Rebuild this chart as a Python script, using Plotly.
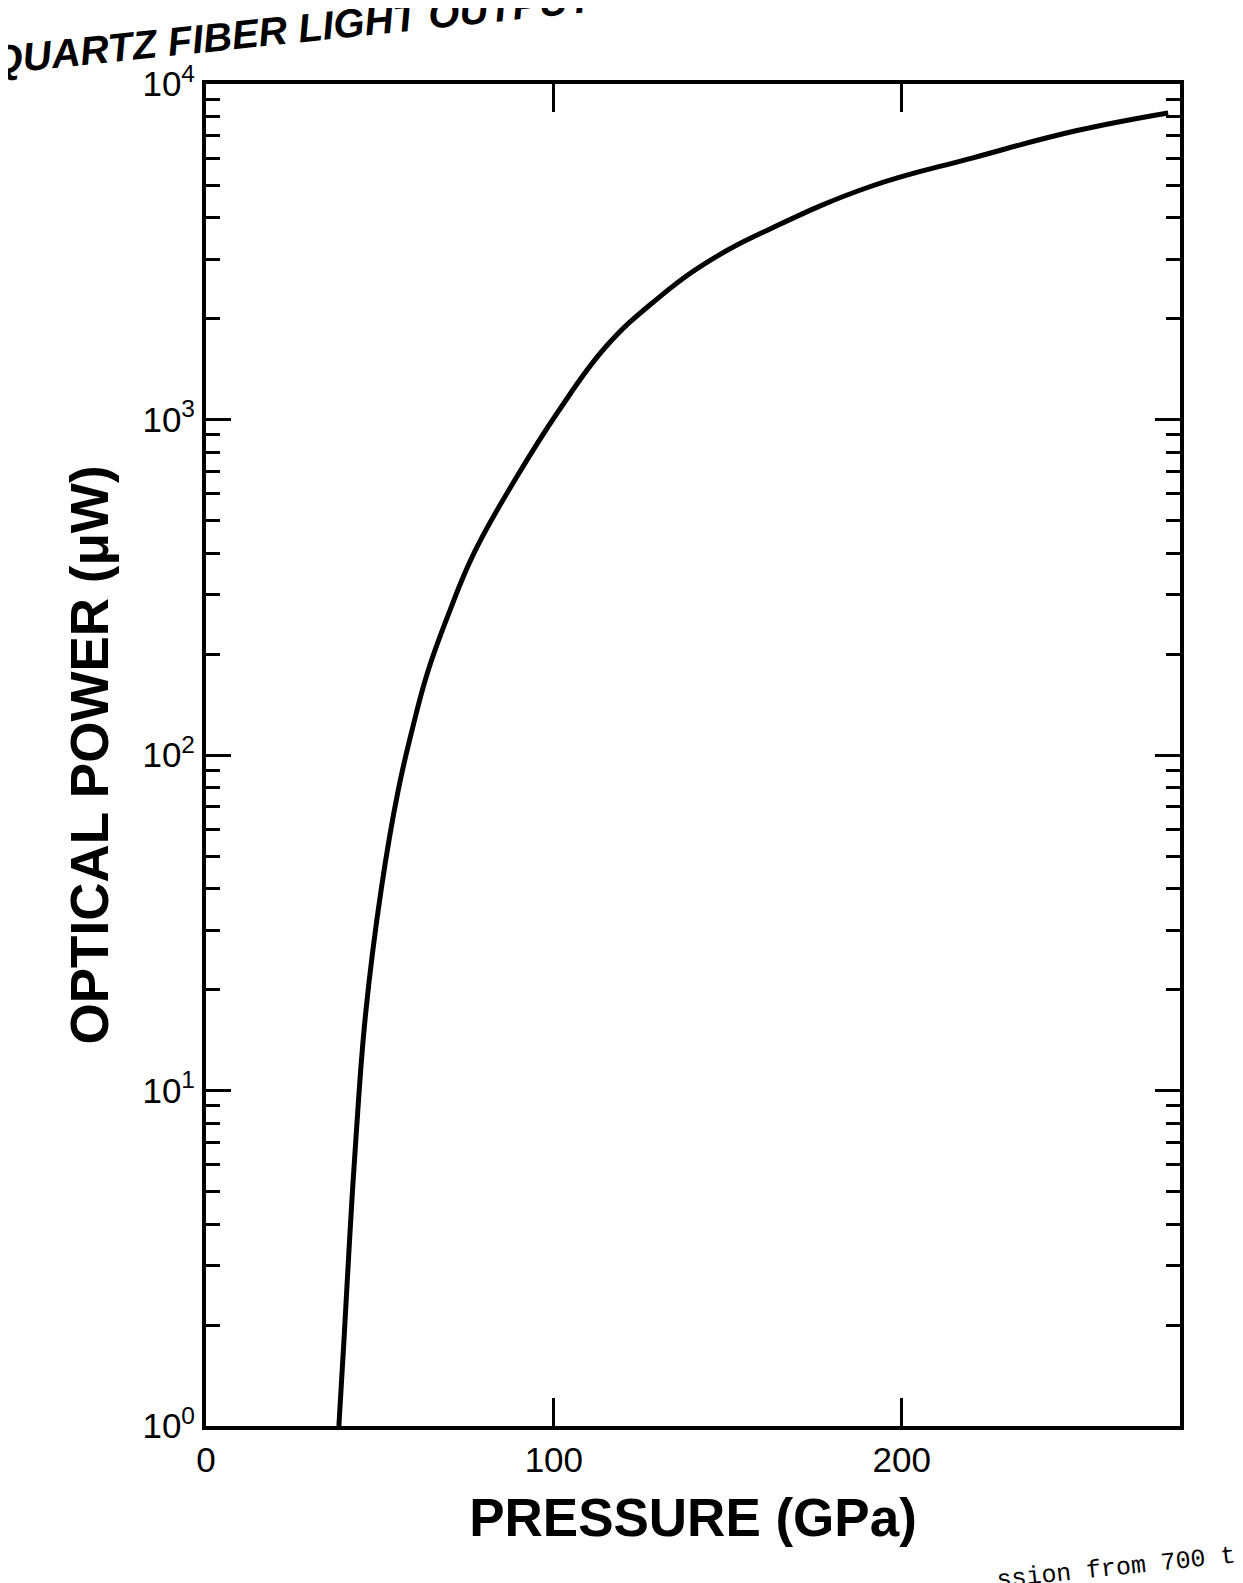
import plotly.graph_objects as go

# ---- data ----
pressure_gpa = [38.2, 39.7, 41.3, 43.1, 45.9, 50.4, 55.2, 59.1, 63.6, 69.6, 77.1,
                89.4, 101.4, 115.0, 129.2, 144.8, 163.2, 190.6, 220.5, 250.4, 276.6]
optical_power_uw = [1.0, 1.83, 3.63, 7.2, 17, 40, 78, 117, 175, 261, 401,
                    676, 1062, 1650, 2266, 2974, 3742, 4932, 6026, 7265, 8200]

y_tick_vals = [1, 10, 100, 1000, 10000]
y_tick_text = ["10<sup>0</sup>", "10<sup>1</sup>", "10<sup>2</sup>", "10<sup>3</sup>", "10<sup>4</sup>"]
x_tick_vals = [0, 100, 200]
x_tick_text = ["0", "100", "200"]

title_text = "QUARTZ FIBER LIGHT OUTPUT"
caption_text = "ssion from 700 t"

# minor log ticks 2..9 in each decade
minor_vals = [m * d for d in [1, 10, 100, 1000] for m in range(2, 10)]

W, H = 1243, 1583
L, R, T, B = 198, 71, 76, 165

fig = go.Figure()
fig.add_trace(go.Scatter(
    x=pressure_gpa, y=optical_power_uw, mode="lines",
    line=dict(color="black", width=5, shape="spline", smoothing=1.2),
    showlegend=False, hoverinfo="skip"))

font_main = "Liberation Sans, Arial, Helvetica, sans-serif"

fig.update_layout(
    width=W, height=H,
    margin=dict(l=L, r=R, t=T, b=B),
    paper_bgcolor="white", plot_bgcolor="white",
    font=dict(family=font_main, color="black"),
    xaxis=dict(
        range=[0, 280], tickvals=x_tick_vals, ticktext=x_tick_text,
        ticks="inside", ticklen=28, tickwidth=3, tickcolor="black",
        showline=True, linewidth=4, linecolor="black", mirror="allticks",
        showgrid=False, zeroline=False,
        tickfont=dict(size=35, family=font_main),
        title=dict(text="<b>PRESSURE (GPa)</b>", font=dict(size=53, family=font_main), standoff=22),
    ),
    yaxis=dict(
        type="log", range=[0, 4], tickvals=y_tick_vals, ticktext=y_tick_text,
        ticks="inside", ticklen=25, tickwidth=3, tickcolor="black",
        showline=True, linewidth=4, linecolor="black", mirror="allticks",
        showgrid=False, zeroline=False,
        tickfont=dict(size=35, family=font_main),
        minor=dict(tickmode="array", tickvals=minor_vals, ticks="inside",
                   ticklen=14, tickwidth=3, tickcolor="black", showgrid=False),
        title=dict(text="<b>OPTICAL POWER (μW)</b>", font=dict(size=53, family=font_main), standoff=18),
    ),
)

pw = W - L - R
ph = H - T - B

def px_to_paper(px, py):
    return (px - L) / pw, (H - B - py) / ph

tx, ty = px_to_paper(285, 22)
fig.add_annotation(
    x=tx, y=ty, xref="paper", yref="paper", xanchor="center", yanchor="middle",
    text="<b><i>" + title_text + "</i></b>", showarrow=False, textangle=-6,
    font=dict(size=40, family=font_main, color="black"))

cx, cy = px_to_paper(1108, 1560)
fig.add_annotation(
    x=cx, y=cy, xref="paper", yref="paper", xanchor="center", yanchor="middle",
    text=caption_text, showarrow=False, textangle=-6,
    font=dict(size=25, family="Liberation Mono, Courier New, monospace", color="black"))

fig.write_html("out.html")
